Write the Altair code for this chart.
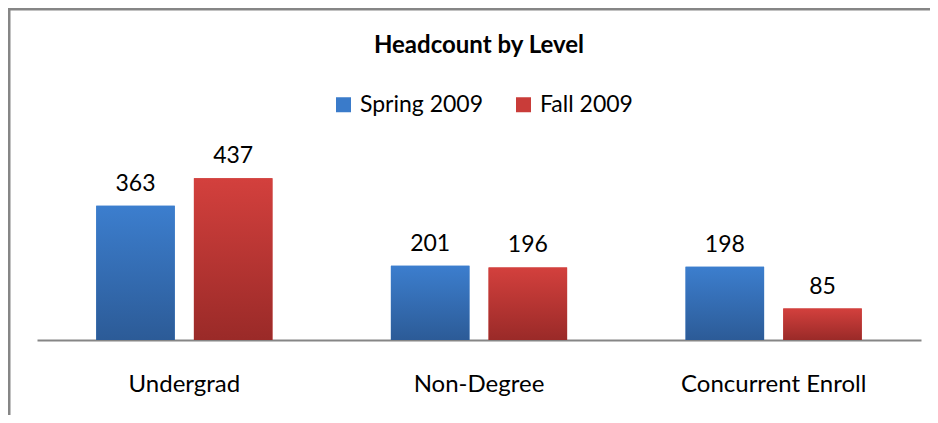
import altair as alt
import pandas as pd

categories = ["Undergrad", "Non-Degree", "Concurrent Enroll"]
series = ["Spring 2009", "Fall 2009"]
spring = [363, 201, 198]
fall = [437, 196, 85]

rows = []
for c, s, f in zip(categories, spring, fall):
    rows.append({"level": c, "term": series[0], "count": s})
    rows.append({"level": c, "term": series[1], "count": f})
df = pd.DataFrame(rows)

FONT = "Lato"
W, H = 884, 185

x = alt.X("level:N", sort=categories, title=None,
          scale=alt.Scale(paddingInner=0.402, paddingOuter=0.201),
          axis=alt.Axis(labelAngle=0, labelFontSize=24, labelFont=FONT, labelColor="#000000",
                        labelLimit=400, ticks=False, tickSize=0, labelPadding=32,
                        domainColor="#868686", domainWidth=2, grid=False))
xo = alt.XOffset("term:N", sort=series, scale=alt.Scale(paddingInner=0.196))
y = alt.Y("count:Q", axis=None, scale=alt.Scale(domain=[0, 500], nice=False))

base = alt.Chart(df)

flat = base.mark_bar().encode(
    x=x, xOffset=xo, y=y,
    color=alt.Color("term:N", sort=series,
                    scale=alt.Scale(domain=series, range=["#3A7BCA", "#C93C39"]),
                    legend=alt.Legend(title=None, orient="none", direction="horizontal",
                                      legendX=295, legendY=-62, symbolType="square",
                                      symbolSize=225, symbolStrokeWidth=0,
                                      labelFontSize=23, labelFont=FONT, labelColor="#000000",
                                      labelOffset=5, columnPadding=28, symbolOpacity=1))
)

def grad(top, bottom):
    return alt.Gradient(gradient="linear", x1=0, x2=0, y1=0, y2=1,
                        stops=[alt.GradientStop(color=top, offset=0),
                               alt.GradientStop(color=bottom, offset=1)])

g_spring = base.transform_filter(alt.datum.term == series[0]).mark_bar(
    color=grad("#3C7ECE", "#2C5B97")).encode(x=x, xOffset=xo, y=y)
g_fall = base.transform_filter(alt.datum.term == series[1]).mark_bar(
    color=grad("#D3403D", "#9A2A28")).encode(x=x, xOffset=xo, y=y)

labels = base.mark_text(baseline="alphabetic", dy=-15, fontSize=23, font=FONT,
                        color="#000000").encode(x=x, xOffset=xo, y=y, text="count:Q")

frame_top = alt.Chart(pd.DataFrame({"a": [0]})).mark_rule(color="#868686", strokeWidth=3).encode(
    x=alt.value(-29), x2=alt.value(W + 9), y=alt.value(-146))
frame_left = alt.Chart(pd.DataFrame({"a": [0]})).mark_rule(color="#868686", strokeWidth=3).encode(
    x=alt.value(-28), y=alt.value(-147), y2=alt.value(H + 75))

chart = alt.layer(flat, g_spring, g_fall, labels, frame_top, frame_left).properties(
    width=W, height=H,
    title=alt.TitleParams("Headcount by Level", fontSize=24, font=FONT, fontWeight="bold",
                          color="#000000", anchor="middle", offset=0, baseline="alphabetic",
                          dy=70),
    autosize=alt.AutoSizeParams(type="none"),
    padding={"left": 29, "right": 9, "top": 147, "bottom": 75},
    background="#FFFFFF",
).configure_view(stroke="transparent", strokeWidth=0)

chart.save("out.html", embed_options={"renderer": "svg", "actions": False})
